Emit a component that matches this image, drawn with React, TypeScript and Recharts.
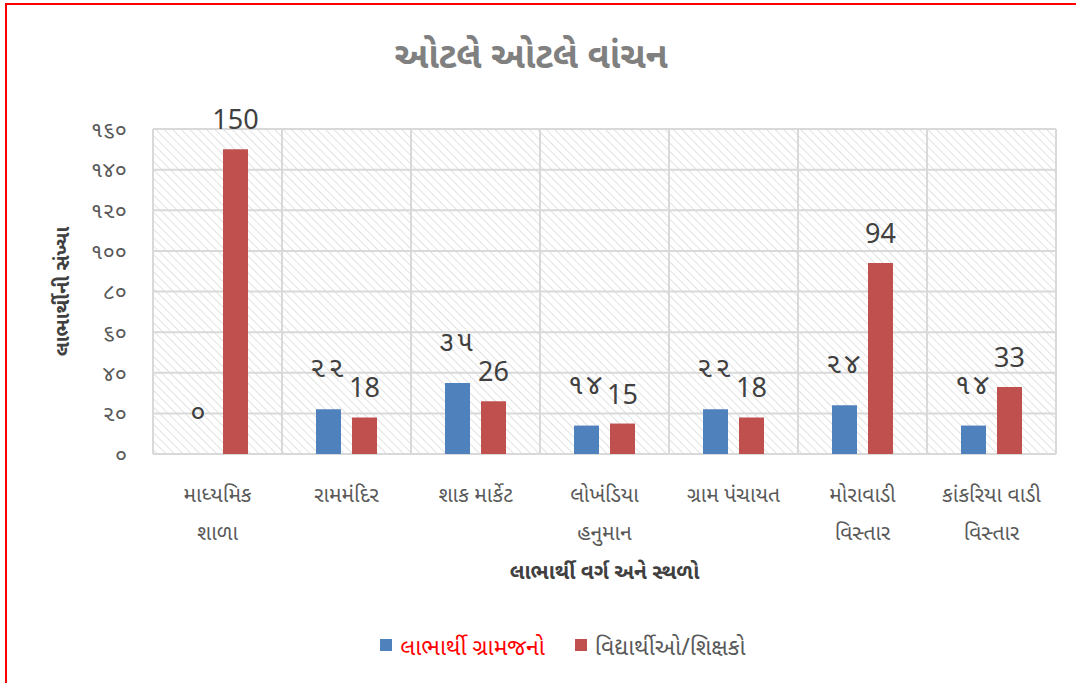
import React from 'react'
import { BarChart, Bar, XAxis, YAxis, CartesianGrid, LabelList, Legend, Cell } from 'recharts'

const categories = [
  'માધ્યમિક\nશાળા',
  'રામમંદિર',
  'શાક માર્કેટ',
  'લોખંડિયા\nહનુમાન',
  'ગ્રામ પંચાયત',
  'મોરાવાડી\nવિસ્તાર',
  'કાંકરિયા વાડી\nવિસ્તાર',
]
const villagers = [0, 22, 35, 14, 22, 24, 14]
const students = [150, 18, 26, 15, 18, 94, 33]
const yTicks = [0, 20, 40, 60, 80, 100, 120, 140, 160]

const seriesNames = ['લાભાર્થી ગ્રામજનો', 'વિદ્યાર્થીઓ/શિક્ષકો']
const BLUE = '#4F81BD'
const RED = '#C0504D'
const FONT = '"Noto Sans Gujarati", "Noto Sans", sans-serif'

const data = categories.map((c, i) => ({ name: c, villagers: villagers[i], students: students[i] }))

// 12 -> "૧૨"
const toGu = (n: number | string) => String(n).replace(/\d/g, d => '૦૧૨૩૪૫૬૭૮૯'[+d])

function CatTick({ x, y, payload }: any) {
  const lines = String(payload.value).split('\n')
  return (
    <text x={x} y={y} textAnchor="middle" fill="#595959" fontSize={21} fontFamily={FONT}>
      {lines.map((l, i) => (
        <tspan key={i} x={x} y={y + 40 + i * 38}>{l}</tspan>
      ))}
    </text>
  )
}

function BlueLabel({ x, y, width, height, value }: any) {
  // zero bars get a 1px min height, keep the label measured from the baseline
  const top = value === 0 ? y + height : y
  return (
    <text x={x + width / 2} y={top - 32} textAnchor="middle" fill="#404040" fontSize={28} fontFamily={FONT} letterSpacing={3}>
      {toGu(value)}
    </text>
  )
}

function RedLabel({ x, y, width, value }: any) {
  return (
    <text x={x + width / 2} y={y - 20} textAnchor="middle" fill="#404040" fontSize={27} fontFamily={FONT}>
      {value}
    </text>
  )
}

function LegendBox() {
  return (
    <div style={{ display: 'flex', justifyContent: 'center', alignItems: 'center', gap: 30, fontFamily: FONT, fontSize: 23, height: 44, paddingLeft: 30 }}>
      <span style={{ display: 'flex', alignItems: 'center', gap: 8, color: '#FF0000' }}>
        <span style={{ width: 12, height: 12, background: BLUE, display: 'inline-block', marginTop: -8 }} />
        {seriesNames[0]}
      </span>
      <span style={{ display: 'flex', alignItems: 'center', gap: 8, color: '#595959' }}>
        <span style={{ width: 12, height: 12, background: RED, display: 'inline-block', marginTop: -8 }} />
        {seriesNames[1]}
      </span>
    </div>
  )
}

export default function App() {
  return (
    <div style={{ position: 'fixed', left: 0, top: 0, width: 1076, height: 683, overflow: 'hidden', background: '#fff' }}>
      <div style={{ position: 'absolute', left: 5, top: 3, width: 1200, height: 800, border: '2px solid #FF0000' }} />
      <div style={{ position: 'absolute', left: 0, top: 0, width: 1076, textAlign: 'center', fontFamily: FONT, fontSize: 36, fontWeight: 'bold', color: '#808080', paddingTop: 36 }}>
        <span style={{ marginLeft: -14 }}>ઓટલે ઓટલે વાંચન</span>
      </div>
      <div style={{ position: 'absolute', left: 0, top: 0 }}>
        <BarChart width={1076} height={683} data={data} margin={{ top: 129, right: 20, bottom: 12, left: 40 }} barGap={11} barCategoryGap={34}>
          <defs>
            <pattern id="hatch" width="6" height="6" patternUnits="userSpaceOnUse" patternTransform="rotate(-45)">
              <rect width="6" height="6" fill="#ffffff" />
              <line x1="0" y1="0" x2="0" y2="6" stroke="#d9d9d9" strokeWidth={1.5} />
            </pattern>
          </defs>
          <CartesianGrid
            fill="url(#hatch)"
            stroke="#d9d9d9"
            strokeWidth={2}
            verticalCoordinatesGenerator={({ offset }: any) =>
              categories.map((_, i) => offset.left + (offset.width * i) / categories.length).concat(offset.left + offset.width)
            }
          />
          <XAxis
            dataKey="name"
            height={173}
            axisLine={false}
            tickLine={false}
            interval={0}
            tick={<CatTick />}
            label={{ value: 'લાભાર્થી વર્ગ અને સ્થળો', position: 'insideBottom', offset: 48, fill: '#404040', fontSize: 21, fontWeight: 'bold', fontFamily: FONT }}
          />
          <YAxis
            width={113}
            domain={[0, 160]}
            ticks={yTicks}
            axisLine={false}
            tickLine={false}
            tickMargin={20}
            tickFormatter={toGu}
            tick={{ fill: '#595959', fontSize: 22, fontFamily: FONT }}
            label={{ value: 'લાભાર્થીની સંખ્યા', angle: -90, position: 'insideLeft', offset: 22, fill: '#404040', fontSize: 20, fontWeight: 'bold', fontFamily: FONT, style: { textAnchor: 'middle' } }}
          />
          <Legend verticalAlign="bottom" content={<LegendBox />} wrapperStyle={{ height: 44 }} />
          <Bar dataKey="villagers" name={seriesNames[0]} fill={BLUE} barSize={25} minPointSize={1} isAnimationActive={false}>
            {villagers.map((v, i) => (
              <Cell key={i} fill={v === 0 ? 'transparent' : BLUE} />
            ))}
            <LabelList dataKey="villagers" content={<BlueLabel />} />
          </Bar>
          <Bar dataKey="students" name={seriesNames[1]} fill={RED} barSize={25} isAnimationActive={false}>
            <LabelList dataKey="students" content={<RedLabel />} />
          </Bar>
        </BarChart>
      </div>
    </div>
  )
}
